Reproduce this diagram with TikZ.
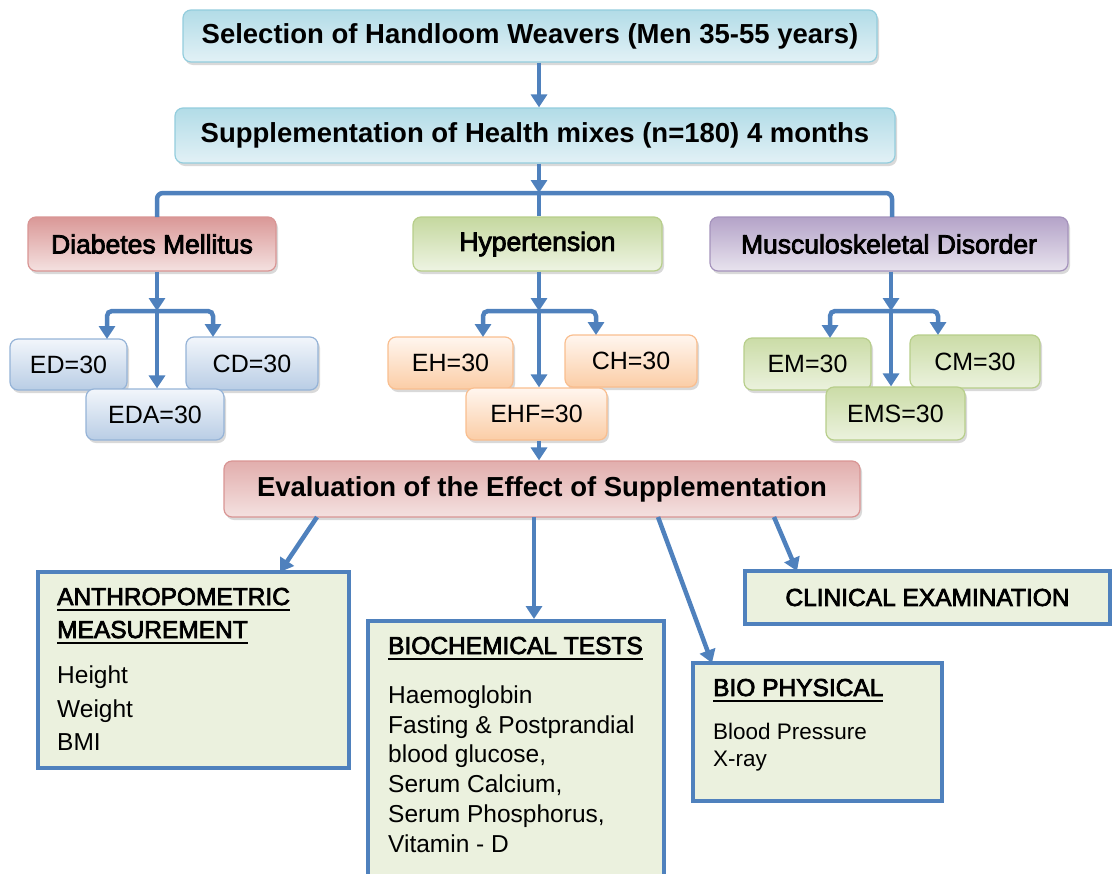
\documentclass[tikz,border=0pt]{standalone}
\usepackage{fontspec}
\setmainfont{Liberation Sans}
\newfontfamily\semibf[FakeBold=3]{Liberation Sans}
\usetikzlibrary{arrows.meta,shadows,calc}
\definecolor{linec}{HTML}{4F81BD}
\definecolor{cyanT}{HTML}{B2DCE7}
\definecolor{cyanL}{HTML}{E2F1F6}
\definecolor{cyanB}{HTML}{93CDDD}
\definecolor{redT}{HTML}{DA9897}
\definecolor{redL}{HTML}{F4E1E0}
\definecolor{redB}{HTML}{D99594}
\definecolor{grnT}{HTML}{C5D89F}
\definecolor{grnL}{HTML}{EEF4E3}
\definecolor{grnB}{HTML}{B7CE8A}
\definecolor{purT}{HTML}{B4A3C8}
\definecolor{purL}{HTML}{E8E3EE}
\definecolor{purB}{HTML}{A593BC}
\definecolor{bluT}{HTML}{F2F6FB}
\definecolor{bluL}{HTML}{B9CDE5}
\definecolor{bluB}{HTML}{95B3D7}
\definecolor{oraT}{HTML}{FFF6EF}
\definecolor{oraL}{HTML}{FBCDA6}
\definecolor{oraB}{HTML}{F9BE8F}
\definecolor{sgrT}{HTML}{CBDCA7}
\definecolor{sgrL}{HTML}{EBF2DD}
\definecolor{boxfill}{HTML}{EBF1DE}
\newsavebox\ulbox
\newcommand\myul[1]{\sbox\ulbox{#1}\rlap{\rule[-6pt]{\wd\ulbox}{2.5pt}}\usebox\ulbox}
\tikzset{
  conn/.style={draw=linec, line width=4.5pt},
  tipd/.style={-{Triangle[width=16pt,length=13pt]}},
  sa/.style={rounded corners=8pt, line width=1.2pt, inner sep=0pt,
    drop shadow={shadow xshift=2pt, shadow yshift=-3pt, opacity=0.3}},
  hdr/.style={sa, draw=cyanB, top color=cyanT, bottom color=cyanL,
    font=\fontsize{27.5}{33}\selectfont\bfseries},
  catred/.style={sa, draw=redB, top color=redT, bottom color=redL,
    font=\fontsize{26.5}{31}\selectfont\semibf},
  catgrn/.style={sa, draw=grnB, top color=grnT, bottom color=grnL,
    font=\fontsize{26.5}{31}\selectfont\semibf},
  catpur/.style={sa, draw=purB, top color=purT, bottom color=purL,
    font=\fontsize{26.5}{31}\selectfont\semibf},
  evbox/.style={sa, draw=redB, top color=redT!70!redL, bottom color=redL,
    font=\fontsize{27.5}{33}\selectfont\bfseries},
  smblu/.style={sa, draw=bluB, top color=bluT, bottom color=bluL,
    font=\fontsize{25}{30}\selectfont},
  smora/.style={sa, draw=oraB, top color=oraT, bottom color=oraL,
    font=\fontsize{25}{30}\selectfont},
  smgrn/.style={sa, draw=grnB, top color=sgrT, bottom color=sgrL,
    font=\fontsize{25}{30}\selectfont},
  outbox/.style={draw=linec, line width=4pt, fill=boxfill, inner sep=0pt},
  hd/.style={anchor=base west, inner sep=0pt, font=\fontsize{24.5}{29}\selectfont\semibf},
  itm/.style={anchor=base west, inner sep=0pt, font=\fontsize{24.5}{29}\selectfont},
  itms/.style={anchor=base west, inner sep=0pt, font=\fontsize{22.5}{27}\selectfont},
}
\begin{document}
\begin{tikzpicture}[x=1pt, y=-1pt]
\useasboundingbox (0,0) rectangle (1113,873);

% top boxes
\node[hdr, minimum width=694pt, minimum height=52pt] (sel) at (530,36)
  {Selection of Handloom Weavers (Men 35-55 years)};
\node[hdr, minimum width=720pt, minimum height=55pt] (sup) at (535,135.5)
  {Supplementation of Health mixes (n=180) 4 months};

% categories
\node[catred, minimum width=248pt, minimum height=54pt] (dm) at (152,244) {Diabetes Mellitus};
\node[catgrn, minimum width=249pt, minimum height=54pt] (hyp) at (537.5,244) {Hypertension};
\node[catpur, minimum width=358pt, minimum height=54pt] (msd) at (889,244) {Musculoskeletal Disorder};

% small groups
\node[smblu, minimum width=117pt, minimum height=51pt] (ed) at (68.5,364.5) {ED=30};
\node[smblu, minimum width=132pt, minimum height=53pt] (cd) at (252,363.5) {CD=30};
\node[smblu, minimum width=138pt, minimum height=51pt] (eda) at (155,414.5) {EDA=30};

\node[smora, minimum width=125pt, minimum height=52pt] (eh) at (450.5,363) {EH=30};
\node[smora, minimum width=132pt, minimum height=52pt] (ch) at (631,361) {CH=30};
\node[smora, minimum width=141pt, minimum height=52pt] (ehf) at (536.5,414) {EHF=30};

\node[smgrn, minimum width=127pt, minimum height=52pt] (em) at (807.5,364) {EM=30};
\node[smgrn, minimum width=130pt, minimum height=53pt] (cm) at (975,361.5) {CM=30};
\node[smgrn, minimum width=139pt, minimum height=53pt] (ems) at (895.5,413.5) {EMS=30};

% evaluation
\node[evbox, minimum width=636pt, minimum height=56pt] (eval) at (542,489)
  {Evaluation of the Effect of Supplementation};

% output boxes
\node[outbox, minimum width=311pt, minimum height=196pt] (anthro) at (193.5,670) {};
\node[outbox, minimum width=296pt, minimum height=262pt] (bioc) at (516,752) {};
\node[outbox, minimum width=249pt, minimum height=138pt] (biop) at (817.5,731.5) {};
\node[outbox, minimum width=365pt, minimum height=53pt,
      font=\fontsize{24.5}{29}\selectfont\semibf] (clin) at (927.5,597.5) {CLINICAL EXAMINATION};

% texts of the output boxes
\node[hd] (an1) at (57,605) {\myul{ANTHROPOMETRIC}};
\node[hd] (an2) at (57,638) {\myul{MEASUREMENT}};
\node[itm] (an3) at (57,683) {Height};
\node[itm] (an4) at (57,717) {Weight};
\node[itm] (an5) at (57,750) {BMI};

\node[hd] (bc0) at (388,654) {\myul{BIOCHEMICAL TESTS}};
\node[itm] (bc1) at (388,703) {Haemoglobin};
\node[itm] (bc2) at (388,733) {Fasting \& Postprandial};
\node[itm] (bc3) at (388,762) {blood glucose,};
\node[itm] (bc4) at (388,792) {Serum Calcium,};
\node[itm] (bc5) at (388,822) {Serum Phosphorus,};
\node[itm] (bc6) at (388,852) {Vitamin - D};

\node[hd] (bp0) at (713,696) {\myul{BIO PHYSICAL}};
\node[itms] (bp1) at (713,739) {Blood Pressure};
\node[itms] (bp2) at (713,766) {X-ray};

% junction coordinates
\coordinate (jTop) at (539,193);
\coordinate (dmIn) at (157,217);
\coordinate (msdIn) at (892,217);
\coordinate (dmJ) at (157,311);
\coordinate (edIn) at (107,339);
\coordinate (cdIn) at (213,337);
\coordinate (hJ) at (539,311);
\coordinate (ehIn) at (483,337);
\coordinate (chIn) at (596,335);
\coordinate (mJ) at (891,311);
\coordinate (emIn) at (830,338);
\coordinate (cmIn) at (938,335);
\coordinate (e1) at (317,517);
\coordinate (a1) at (280,572);
\coordinate (e2) at (534,517);
\coordinate (e3) at (658,517);
\coordinate (a3) at (712,663);
\coordinate (e4) at (774,517);
\coordinate (a4) at (797,571);

% connectors
\draw[conn,tipd] (sel.south -| jTop) -- (sup.north -| jTop);
\draw[conn,tipd] (sup.south -| jTop) -- (jTop);
\draw[conn,rounded corners=6pt] (jTop) -| (dmIn);
\draw[conn,rounded corners=6pt] (jTop) -| (msdIn);
\draw[conn] (jTop) -- (hyp.north -| jTop);

\draw[conn,tipd] (dm.south -| dmJ) -- (dmJ);
\draw[conn,tipd,rounded corners=5pt] (dmJ) -| (edIn);
\draw[conn,tipd,rounded corners=5pt] (dmJ) -| (cdIn);
\draw[conn,tipd] (dmJ) -- (eda.north -| dmJ);

\draw[conn,tipd] (hyp.south -| hJ) -- (hJ);
\draw[conn,tipd,rounded corners=5pt] (hJ) -| (ehIn);
\draw[conn,tipd,rounded corners=5pt] (hJ) -| (chIn);
\draw[conn,tipd] (hJ) -- (ehf.north -| hJ);

\draw[conn,tipd] (msd.south -| mJ) -- (mJ);
\draw[conn,tipd,rounded corners=5pt] (mJ) -| (emIn);
\draw[conn,tipd,rounded corners=5pt] (mJ) -| (cmIn);
\draw[conn,tipd] (mJ) -- (ems.north -| mJ);

\draw[conn,tipd] (ehf.south -| hJ) -- (eval.north -| hJ);

\draw[conn,tipd] (e1) -- (a1);
\draw[conn,tipd] (e2) -- (bioc.north -| e2);
\draw[conn,tipd] (e3) -- (a3);
\draw[conn,tipd] (e4) -- (a4);
\end{tikzpicture}
\end{document}
